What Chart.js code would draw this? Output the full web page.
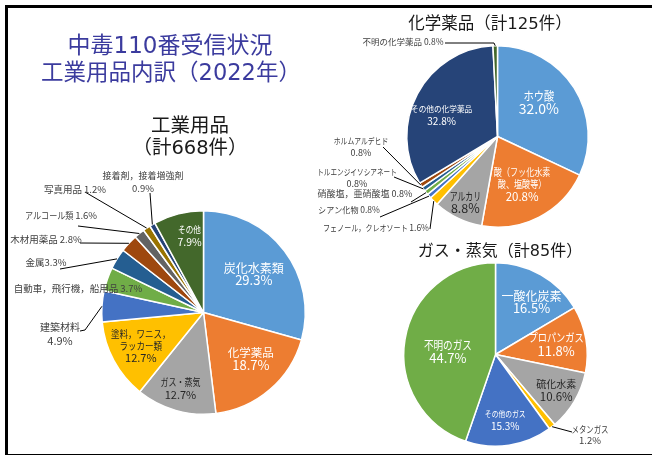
<!DOCTYPE html>
<html>
<head>
<meta charset="utf-8">
<script src="https://cdn.jsdelivr.net/npm/chart.js@4.4.1/dist/chart.umd.min.js"></script>
<style>
body{margin:0;background:#fff;width:652px;height:455px;overflow:hidden;position:relative;font-family:'Noto Sans CJK JP',sans-serif}
.frame{position:absolute;left:5px;top:5px;width:700px;height:446px;border-top:3px solid #000;border-left:3px solid #000;border-bottom:2px solid #000}
canvas{position:absolute;left:0;top:0}
.t{position:absolute;white-space:nowrap;transform:translateX(-50%);text-align:center}
</style>
</head>
<body>
<div class="frame"></div>
<canvas id="pieInd" width="652" height="455"></canvas>
<canvas id="pieChem" width="652" height="455"></canvas>
<canvas id="pieGas" width="652" height="455"></canvas>
<div id="titles"></div>
<script>
// 工業用品 (計668件)
var indNames = ['炭化水素類', '化学薬品', 'ガス・蒸気', '塗料，ワニス，\nラッカー類', '建築材料', '自動車，飛行機，船用品',
	'金属', '木材用薬品', 'アルコール類', '写真用品', '接着剤，接着増強剤', 'その他'];
var indCounts = [196, 125, 85, 85, 33, 25, 22, 19, 11, 8, 6, 53];

// 化学薬品 (計125件)
var chemNames = ['ホウ酸', '酸（フッ化水素\n酸、塩酸等）', 'アルカリ', 'フェノール，クレオソート', 'シアン化物', '硝酸塩，亜硝酸塩',
	'トルエンジイソシアネート', 'ホルムアルデヒド', 'その他の化学薬品', '不明の化学薬品'];
var chemCounts = [40, 26, 11, 2, 1, 1, 1, 1, 41, 1];

// ガス・蒸気 (計85件)
var gasNames = ['一酸化炭素', 'プロパンガス', '硫化水素', 'メタンガス', 'その他のガス', '不明のガス'];
var gasCounts = [14, 10, 9, 1, 13, 38];

var palette = ['#5B9BD5', '#ED7D31', '#A5A5A5', '#FFC000', '#4472C4', '#70AD47',
	'#255E91', '#9E480E', '#636363', '#997300', '#264478', '#43682B'];
var chemColors = ['#5B9BD5', '#ED7D31', '#A5A5A5', '#FFC000', '#4472C4', '#70AD47', '#255E91', '#9E480E', '#264478', '#43682B'];

var W = '#ffffff', D = '#262626', G = '#404040';

// label placement: f = fraction of radius along the slice middle, else x/y of the text
// sx = horizontal squeeze of the name text (the original font is narrower)
var indLayout = [
	{f: .62, size: 12, ps: 13, color: W, lh: 12},
	{f: .65, da: -5, size: 11.5, ps: 13, color: W, lh: 12},
	{f: .78, da: 1, size: 10, sx: .8, ps: 11, color: D, lh: 13},
	{f: .70, size: 10, sx: .85, ps: 11, color: D, lh: 12},
	{x: 60, y: 334, size: 10, ps: 11, lh: 13, lead: [[80, 331], [85, 330]]},
	{x: 78, y: 288, sep: ' '},
	{x: 46, y: 262, sep: '', lead: [[60, 269]]},
	{x: 46, y: 239, sep: ' ', lead: [[80, 243]]},
	{x: 61, y: 215, sep: ' ', sx: .85, lead: [[78, 226]]},
	{x: 75, y: 189, sep: ' ', lead: [[85, 192]]},
	{x: 143, y: 182, size: 9, ps: 9.5, lh: 12, lead: [[150, 193]]},
	{f: .77, da: 4, size: 9.5, sx: .8, ps: 10.5, color: W, lh: 13}
];
var chemLayout = [
	{f: .59, da: -7, size: 12, sx: .86, ps: 14, color: W, lh: 12},
	{f: .59, size: 10.5, sx: .77, ps: 11.5, color: W, lh: 12.5},
	{f: .81, size: 11.5, sx: .68, ps: 12.5, color: D, lh: 12},
	{x: 376, y: 228, sep: ' ', size: 8.5, sx: .83, lead: [[430, 229]]},
	{x: 349, y: 210, sep: ' ', size: 8.5, sx: .95, lead: [[380, 217]]},
	{x: 365, y: 194, sep: ' ', size: 9, lead: [[411, 202]]},
	{x: 357, y: 178, size: 8.5, sx: .78, ps: 9, lh: 12, lead: [[394, 177]]},
	{x: 361, y: 147, size: 8.5, sx: .8, ps: 9, lh: 12, lead: [[383, 147]]},
	{f: .66, da: -7, size: 8.5, sx: .9, ps: 10, color: W, lh: 13},
	{x: 403, y: 42, sep: ' ', size: 8.5, lead: [[445, 43], [494, 43]]}
];
var gasLayout = [
	{f: .69, da: 5, size: 12, ps: 13, color: W, lh: 12},
	{f: .67, size: 11.5, sx: .8, ps: 13, color: W, lh: 13},
	{f: .77, size: 10, ps: 11.5, color: D, lh: 12},
	{x: 590, y: 435, size: 9.5, sx: .78, ps: 9.5, lh: 11, lead: [[572, 432]]},
	{f: .72, size: 8.5, sx: .8, ps: 10, color: W, lh: 13},
	{f: .52, da: -6, size: 12, sx: .8, ps: 13, color: W, lh: 12}
];

function pctText(counts, i) {
	var tot = counts.reduce(function(a, b) { return a + b; }, 0);
	return (counts[i] * 100 / tot).toFixed(1) + '%';
}

var sliceLabels = {
	id: 'sliceLabels',
	afterDatasetsDraw: function(chart, args, opts) {
		var ctx = chart.ctx;
		var meta = chart.getDatasetMeta(0);
		var counts = chart.data.datasets[0].data;
		ctx.save();
		meta.data.forEach(function(arc, i) {
			var L = opts.layout[i];
			var p = arc.getProps(['x', 'y', 'startAngle', 'endAngle', 'outerRadius'], true);
			var mid = (p.startAngle + p.endAngle) / 2;
			var x, y;
			if (L.f) {
				var a = mid + (L.da || 0) * Math.PI / 180;
				x = p.x + Math.cos(a) * p.outerRadius * L.f;
				y = p.y + Math.sin(a) * p.outerRadius * L.f;
			} else {
				x = L.x;
				y = L.y;
			}
			if (L.lead) {
				ctx.beginPath();
				ctx.strokeStyle = '#000';
				ctx.lineWidth = 1;
				ctx.moveTo(L.lead[0][0], L.lead[0][1]);
				for (var k = 1; k < L.lead.length; k++) ctx.lineTo(L.lead[k][0], L.lead[k][1]);
				ctx.lineTo(p.x + Math.cos(mid) * p.outerRadius, p.y + Math.sin(mid) * p.outerRadius);
				ctx.stroke();
			}
			var sep = L.sep == null ? '\n' : L.sep;
			var pct = pctText(counts, i);
			var lines = (opts.names[i] + sep + pct).split('\n');
			var lh = L.lh || 12;
			var size = L.size || 9.5;
			var sx = L.sx || 1;
			var y0 = y - (lines.length - 1) * lh / 2;
			ctx.fillStyle = L.color || G;
			ctx.textAlign = 'left';
			ctx.textBaseline = 'middle';
			lines.forEach(function(s, k) {
				var last = k === lines.length - 1;
				var segs;
				if (last && sep === '\n') {
					segs = [{t: s, size: L.ps || size, sx: 1}];
				} else if (last) {
					segs = [{t: s.slice(0, s.length - pct.length), size: size, sx: sx}, {t: pct, size: size, sx: 1}];
				} else {
					segs = [{t: s, size: size, sx: sx}];
				}
				var total = 0;
				segs.forEach(function(g) {
					ctx.font = g.size + "px 'Noto Sans CJK JP'";
					g.w = ctx.measureText(g.t).width * g.sx;
					total += g.w;
				});
				var cx = x - total / 2;
				segs.forEach(function(g) {
					ctx.font = g.size + "px 'Noto Sans CJK JP'";
					ctx.save();
					ctx.translate(cx, y0 + k * lh);
					ctx.scale(g.sx, 1);
					ctx.fillText(g.t, 0, 0);
					ctx.restore();
					cx += g.w;
				});
			});
		});
		ctx.restore();
	}
};

function makePie(id, names, counts, colors, pad, layout) {
	return new Chart(document.getElementById(id), {
		type: 'pie',
		data: {
			labels: names,
			datasets: [{data: counts, backgroundColor: colors, borderColor: '#fff', borderWidth: 1.5}]
		},
		options: {
			responsive: false,
			animation: false,
			layout: {padding: pad},
			plugins: {
				legend: {display: false},
				tooltip: {enabled: false},
				sliceLabels: {names: names, layout: layout}
			}
		},
		plugins: [sliceLabels]
	});
}

makePie('pieInd', indNames, indCounts, palette, {left: 101, right: 346, top: 210, bottom: 40}, indLayout);
makePie('pieChem', chemNames, chemCounts, chemColors, {left: 406, right: 63, top: 45, bottom: 227}, chemLayout);
makePie('pieGas', gasNames, gasCounts, palette.slice(0, 6), {left: 403, right: 64, top: 262, bottom: 8}, gasLayout);

// titles
var titles = [
	{text: '中毒110番受信状況', x: 170, y: 45, size: 23, color: '#3B3B9E'},
	{text: '工業用品内訳（2022年）', x: 171, y: 72, size: 22.5, color: '#3B3B9E'},
	{text: '工業用品', x: 190, y: 125, size: 19.5, color: '#1a1a1a'},
	{text: '（計668件）', x: 190, y: 147, size: 19.5, color: '#1a1a1a'},
	{text: '化学薬品（計125件）', x: 490, y: 23, size: 16.5, color: '#1a1a1a'},
	{text: 'ガス・蒸気（計85件）', x: 500, y: 251, size: 16, color: '#1a1a1a'}
];
var box = document.getElementById('titles');
titles.forEach(function(t) {
	var d = document.createElement('div');
	d.className = 't';
	d.textContent = t.text;
	var h = Math.round(t.size * 1.4);
	d.style.cssText = 'left:' + t.x + 'px;top:' + (t.y - h / 2) + 'px;height:' + h + 'px;line-height:' + h +
		'px;font-size:' + t.size + "px;color:" + t.color + ";font-family:'DejaVu Sans','Noto Sans CJK JP',sans-serif";
	box.appendChild(d);
});
</script>
</body>
</html>
